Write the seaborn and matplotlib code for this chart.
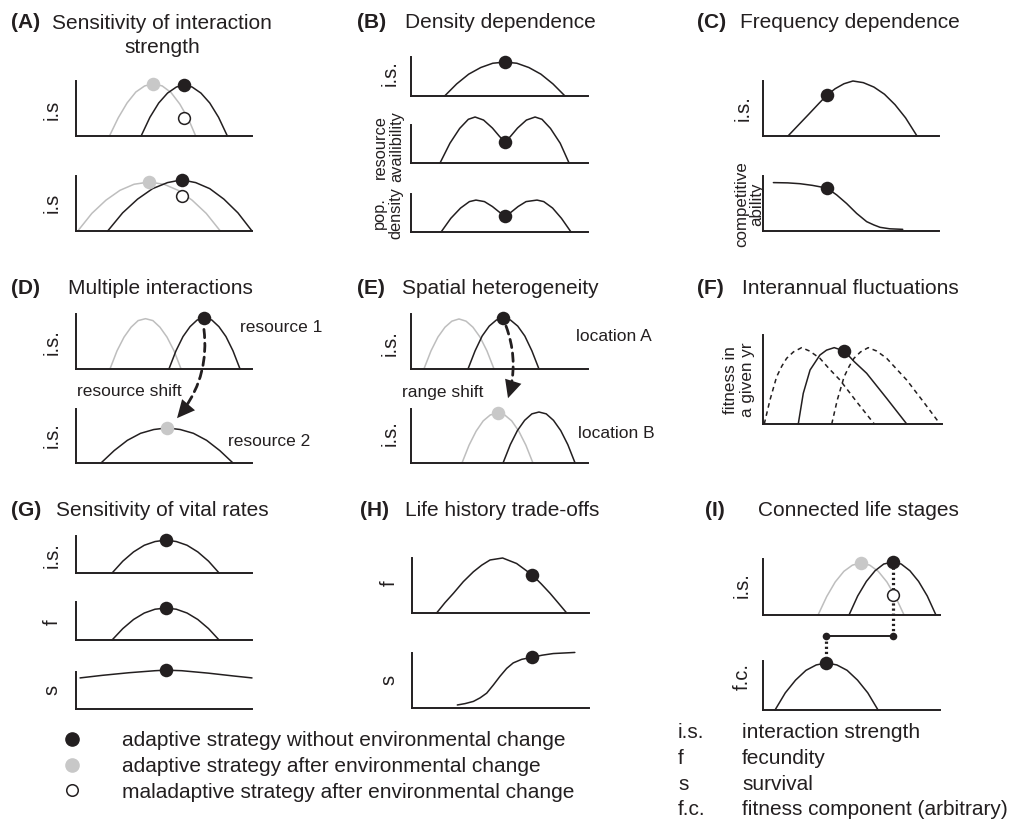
import matplotlib
matplotlib.use('Agg')
import matplotlib.pyplot as plt
import seaborn as sns
from matplotlib.patches import ConnectionPatch
from matplotlib.lines import Line2D

# ---- curve data (x, y in % of each small axis) ----
# (A) sensitivity of interaction strength
a1_grey_x = [19, 24, 29, 34, 39, 44, 49, 54, 59, 64, 68]
a1_grey_y = [0, 33, 60, 80, 91, 95, 91, 79, 58, 30, 0]
a1_black_x = [37, 42, 47, 52, 57, 61.5, 66, 71, 76, 81, 86]
a1_black_y = [0, 34, 60, 78, 89, 93, 89, 78, 60, 34, 0]
a2_grey_x = [1, 9, 17, 25, 33, 41.5, 50, 58, 66, 74, 82]
a2_grey_y = [0, 32, 56, 74, 85, 89, 85, 74, 56, 32, 0]
a2_black_x = [18, 26.5, 35, 43.5, 52, 60, 68, 76, 84, 92, 100]
a2_black_y = [0, 33, 58, 77, 88, 93, 88, 77, 58, 33, 0]
a1_pts = {'black': (61.5, 93), 'grey': (43.8, 95), 'open': (61.5, 33)}
a2_pts = {'black': (60, 93), 'grey': (41.5, 89), 'open': (60, 63.6)}

# (B) density dependence
b1_x = [19, 25.8, 32.6, 39.4, 46.2, 53, 59.8, 66.6, 73.4, 80.2, 87]
b1_y = [0, 31, 56, 73, 84, 87, 84, 73, 56, 31, 0]
b2_x = [16.4, 22, 27.5, 32.4, 36.2, 41, 46, 50, 53.1, 56.2, 60.2, 65.2, 70.1, 74, 78.8, 84.3, 89.3]
b2_y = [0, 52, 91, 115, 121, 113, 92, 70, 55, 70, 92, 113, 121, 115, 91, 52, 0]
b3_x = [17, 22.5, 28, 33, 36.7, 41.5, 46, 50, 53.1, 56.5, 60.5, 65, 71.2, 75, 80, 85, 90.4]
b3_y = [0, 36, 63, 80, 84, 80, 67, 52, 42, 52, 67, 80, 84, 80, 63, 36, 0]
b_pts = [(53, 87), (53.1, 55), (53.1, 42)]

# (C) frequency dependence
c1_x = [14.2, 20, 26, 32, 36.4, 41, 46, 51.1, 57, 63, 69, 75, 81, 87.5]
c1_y = [0, 19.5, 39.6, 60, 74.5, 86, 95, 100, 97, 89, 76, 57, 33, 0]
c2_x = [5.9, 14, 21, 28, 36.4, 41.9, 47.5, 53.2, 58.9, 63, 66.5, 72, 79.4]
c2_y = [88, 87.5, 86, 83, 78, 65.5, 50, 32, 17, 11, 6.7, 4, 3]
c_pts = [(36.4, 74.5), (36.4, 78)]

# (D) multiple interactions
d1_grey_x = [19.3, 23.3, 27.3, 31.3, 35.3, 39.5, 43.7, 47.7, 51.7, 55.7, 59.7]
d1_grey_y = [0, 33, 58, 76, 88, 91.5, 88, 76, 58, 33, 0]
d1_black_x = [52.8, 56.8, 60.8, 64.8, 68.8, 73, 77.2, 81.2, 85.2, 89.2, 93.2]
d1_black_y = [0, 33, 59, 77, 89, 92.7, 89, 77, 59, 33, 0]
d2_x = [14.2, 21.7, 29.2, 36.7, 44.2, 51.7, 59.2, 66.7, 74.2, 81.7, 89.2]
d2_y = [0, 23, 42, 55, 62, 65, 62, 55, 42, 23, 0]
d1_pt = (73, 92.7)
d2_pt = (51.7, 65)
d_arrow = [(72.7, 72), (57.4, 83)]

# (E) spatial heterogeneity
e1_grey_x = [7.3, 11.3, 15.2, 19.2, 23.1, 27.1, 31.1, 35, 39, 42.9, 46.9]
e1_grey_y = [0, 33, 58, 76, 87, 91, 87, 76, 58, 33, 0]
e1_black_x = [32.2, 36.2, 40.2, 44.2, 48.2, 52.2, 56.2, 60.3, 64.3, 68.3, 72.3]
e1_black_y = [0, 33, 60, 78, 89, 93, 89, 78, 60, 33, 0]
e2_grey_x = [28.8, 32.8, 36.8, 40.8, 44.8, 48.9, 52.9, 56.9, 60.9, 64.9, 68.9]
e2_grey_y = [0, 33, 59, 78, 89, 92.6, 89, 78, 59, 33, 0]
e2_black_x = [52, 56.1, 60.1, 64.2, 68.3, 72.3, 76.4, 80.5, 84.6, 88.6, 92.7]
e2_black_y = [0, 34, 60, 79, 91, 94.4, 91, 79, 60, 34, 0]
e1_pt = (52.2, 93)
e2_pt = (48.9, 92.6)
e_arrow = [(53.7, 78), (54.8, 120)]

# (F) interannual fluctuations
f_dash1_x = [0.7, 3.9, 7.6, 10.5, 13.2, 17, 21.6, 26, 31.8, 37, 43, 52.3, 62.2]
f_dash1_y = [0, 27, 53, 65, 73.8, 81, 85.8, 82, 73.8, 62, 49.4, 25, 0]
f_solid_x = [19.7, 22.5, 26.3, 31.8, 35.5, 39.8, 45.4, 51, 57.9, 69.1, 80.3]
f_solid_y = [0, 34.5, 60.7, 77.5, 83, 85.8, 82, 70, 57, 28.8, 0]
f_dash2_x = [38.4, 41.5, 45.3, 48.2, 50.8, 54.5, 58.8, 63.5, 69.1, 74.5, 80.3, 89.6, 98.9]
f_dash2_y = [0, 27, 53, 65, 73.8, 81, 85.8, 82, 73.8, 62, 49.4, 25, 0]
f_pt = (45.4, 82)

# (G) sensitivity of vital rates
g_x = [20.5, 26.6, 32.7, 38.8, 44.9, 51, 57, 63.1, 69.2, 75.3, 81.3]
g1_y = [0, 32, 57, 75, 85, 89, 85, 75, 57, 32, 0]
g2_y = [0, 30, 54, 71, 81, 84, 81, 71, 54, 30, 0]
g3_x = [2.3, 15, 30, 45, 51, 60, 75, 90, 100]
g3_y = [84, 91, 98, 103.5, 105, 103.5, 97, 89, 84]
g_pts = [(51, 89), (51, 84), (51, 105)]

# (H) life history trade-offs
h1_x = [13.9, 18.6, 23.4, 29, 34.7, 39.4, 44.1, 51.2, 59.1, 68, 73, 78, 82.7, 87.4]
h1_y = [0, 18.7, 35.8, 57, 75, 87, 96.4, 100, 90, 69, 53, 35.8, 18, 0]
h2_x = [25.6, 30, 34.7, 38.5, 42.2, 46, 49.7, 53.5, 57.2, 62, 67.6, 73.5, 79.8, 92]
h2_y = [5.5, 8, 12, 18.5, 27, 42, 57.6, 72, 82, 88.5, 92, 96, 99, 101]
h_pts = [(68, 69), (67.6, 92)]

# (I) connected life stages
i1_grey_x = [31.1, 36, 40.8, 45.7, 50.5, 55.4, 60.3, 65.1, 70, 74.8, 79.7]
i1_grey_y = [0, 33, 59, 78, 89, 93, 89, 78, 59, 33, 0]
i1_black_x = [48.6, 53.5, 58.4, 63.3, 68.2, 73.2, 78.1, 83, 87.9, 92.8, 97.7]
i1_black_y = [0, 34, 60, 79, 91, 94.6, 91, 79, 60, 34, 0]
i2_x = [6.8, 12.6, 18.4, 24.3, 30.1, 35.8, 41.7, 47.5, 53.4, 59.2, 65]
i2_y = [0, 35, 61, 81, 92, 96, 92, 81, 61, 35, 0]
i1_pts = {'black': (73.2, 94.6), 'grey': (55.4, 93), 'open': (73.2, 35.7)}
i2_pt = (35.8, 95)
i_link_x = [35.8, 73.2]
i_link_y1 = -37.5   # link level in top-axis units
i_link_y2 = 151     # same level in bottom-axis units

legend_labels = ['adaptive strategy without environmental change',
                 'adaptive strategy after environmental change',
                 'maladaptive strategy after environmental change']
gloss_abbr = ['i.s.', 'f', 's', 'f.c.']
gloss_desc = ['interaction strength', 'fecundity', 'survival',
              'fitness component (arbitrary)']

# ---- style ----
sns.set_style('white')
plt.rcParams['font.family'] = ['Liberation Sans', 'DejaVu Sans']
INK = '#231f20'
GREY = '#bebebe'
DOT_GREY = '#c8c8c8'

W, H = 1014, 824
fig = plt.figure(figsize=(W / 100, H / 100), dpi=100)
fig.patch.set_facecolor('white')


def panel(left, top, right, bottom):
    ax = fig.add_axes([left / W, 1 - bottom / H, (right - left) / W, (bottom - top) / H])
    ax.set_xticks([])
    ax.set_yticks([])
    for s in ['top', 'right']:
        ax.spines[s].set_visible(False)
    for s in ['left', 'bottom']:
        ax.spines[s].set_linewidth(1.4)
        ax.spines[s].set_color(INK)
    ax.patch.set_alpha(0)
    return ax


def curve(ax, x, y, color=INK, ls='-', lw=1.1):
    sns.lineplot(x=x, y=y, ax=ax, color=color, lw=lw, linestyle=ls,
                 estimator=None, sort=False, clip_on=False, legend=False)


def dot(ax, pt, kind='black', s=95):
    if kind == 'black':
        fc, ec = INK, INK
    elif kind == 'grey':
        fc, ec = DOT_GREY, DOT_GREY
    else:
        fc, ec = 'white', INK
        s = 72
    sns.scatterplot(x=[pt[0]], y=[pt[1]], ax=ax, s=s, color=fc, edgecolor=ec,
                    linewidth=1.1 if kind == 'open' else 0, zorder=6,
                    clip_on=False, legend=False)


def ftext(x, y, s, size=15, **kw):
    fig.text(x / W, 1 - y / H, s, fontsize=size, color=INK, va='center', **kw)


def ylab(x, y, s, size=14.5, spacing=1.0):
    fig.text(x / W, 1 - y / H, s, fontsize=size, color=INK, rotation=90,
             ha='center', va='center', multialignment='center', linespacing=spacing)


def title(x_lab, x_txt, y, lab, txt):
    ftext(x_lab, y, lab, weight='bold')
    ftext(x_txt, y, txt)


def shift_arrow(ax_from, ax_to, pts, rad):
    # dashed shaft, then a solid filled head on the same path
    shaft = ConnectionPatch(pts[0], pts[1], 'data', 'data', axesA=ax_from, axesB=ax_to,
                            arrowstyle='-', connectionstyle=f'arc3,rad={rad}', color=INK,
                            lw=2, linestyle=(0, (3, 2)), shrinkA=0, shrinkB=8, zorder=7)
    head = ConnectionPatch(pts[0], pts[1], 'data', 'data', axesA=ax_from, axesB=ax_to,
                           arrowstyle='-|>,head_length=0.75,head_width=0.36',
                           connectionstyle=f'arc3,rad={rad}', color=INK, lw=0,
                           mutation_scale=17, shrinkA=0, shrinkB=0, zorder=7)
    for p in (shaft, head):
        p.set_annotation_clip(False)
        fig.add_artist(p)


# ---- (A) ----
title(11, 50, 23, '(A)', '')
ftext(162, 35.5, 'Sensitivity of interaction\nstrength', ha='center', linespacing=1.3)
axA1 = panel(76, 81, 252, 136)
curve(axA1, a1_grey_x, a1_grey_y, GREY)
curve(axA1, a1_black_x, a1_black_y)
dot(axA1, a1_pts['grey'], 'grey')
dot(axA1, a1_pts['black'])
dot(axA1, a1_pts['open'], 'open')
axA2 = panel(76, 176, 252, 231)
curve(axA2, a2_grey_x, a2_grey_y, GREY)
curve(axA2, a2_black_x, a2_black_y)
dot(axA2, a2_pts['grey'], 'grey')
dot(axA2, a2_pts['black'])
dot(axA2, a2_pts['open'], 'open')
ylab(52, 110, 'i.s')
ylab(52, 203, 'i.s')

# ---- (B) ----
title(357, 405, 23, '(B)', 'Density dependence')
axB1 = panel(411, 57, 588, 96)
curve(axB1, b1_x, b1_y)
dot(axB1, b_pts[0])
axB2 = panel(411, 125, 588, 163)
curve(axB2, b2_x, b2_y)
dot(axB2, b_pts[1])
axB3 = panel(411, 194, 588, 232)
curve(axB3, b3_x, b3_y)
dot(axB3, b_pts[2])
ylab(390, 73, 'i.s.')
ylab(389, 147, 'resource\navailibility', 11.8, 1.12)
ylab(388, 213, 'pop.\ndensity', 11.8, 1.12)

# ---- (C) ----
title(697, 740, 23, '(C)', 'Frequency dependence')
axC1 = panel(763, 81, 939, 136)
curve(axC1, c1_x, c1_y)
dot(axC1, c_pts[0])
axC2 = panel(763, 176, 939, 231)
curve(axC2, c2_x, c2_y)
dot(axC2, c_pts[1])
ylab(743, 108, 'i.s.')
ylab(749, 204, 'competitive\nability', 12.2, 1.02)

# ---- (D) ----
title(11, 68, 288, '(D)', 'Multiple interactions')
axD1 = panel(76, 314, 252, 369)
curve(axD1, d1_grey_x, d1_grey_y, GREY)
curve(axD1, d1_black_x, d1_black_y)
dot(axD1, d1_pt)
axD2 = panel(76, 409, 252, 463)
curve(axD2, d2_x, d2_y)
dot(axD2, d2_pt, 'grey')
ylab(52, 342, 'i.s.')
ylab(52, 435, 'i.s.')
ftext(240, 327, 'resource 1', 12.5)
ftext(77, 392, 'resource shift', 12.5)
ftext(228, 442, 'resource 2', 12.5)
shift_arrow(axD1, axD2, d_arrow, -0.22)

# ---- (E) ----
title(357, 402, 288, '(E)', 'Spatial heterogeneity')
axE1 = panel(411, 314, 588, 369)
curve(axE1, e1_grey_x, e1_grey_y, GREY)
curve(axE1, e1_black_x, e1_black_y)
dot(axE1, e1_pt)
axE2 = panel(411, 409, 588, 463)
curve(axE2, e2_grey_x, e2_grey_y, GREY)
curve(axE2, e2_black_x, e2_black_y)
dot(axE2, e2_pt, 'grey')
ylab(390, 343, 'i.s.')
ylab(390, 433, 'i.s.')
ftext(576, 336, 'location A', 12.5)
ftext(402, 392, 'range shift', 12.5)
ftext(578, 433, 'location B', 12.5)
shift_arrow(axE1, axE2, e_arrow, -0.17)

# ---- (F) ----
title(697, 742, 288, '(F)', 'Interannual fluctuations')
axF = panel(763, 335, 942, 424)
curve(axF, f_dash1_x, f_dash1_y, ls=(0, (3, 2.5)))
curve(axF, f_solid_x, f_solid_y)
curve(axF, f_dash2_x, f_dash2_y, ls=(0, (3, 2.5)))
dot(axF, f_pt)
ylab(739, 380, 'fitness in\na given yr', 12.3, 1.1)

# ---- (G) ----
title(11, 56, 510, '(G)', 'Sensitivity of vital rates')
axG1 = panel(76, 536, 252, 573)
curve(axG1, g_x, g1_y)
dot(axG1, g_pts[0])
axG2 = panel(76, 602, 252, 640)
curve(axG2, g_x, g2_y)
dot(axG2, g_pts[1])
axG3 = panel(76, 672, 252, 709)
curve(axG3, g3_x, g3_y)
dot(axG3, g_pts[2])
ylab(52, 555, 'i.s.')
ylab(52, 622, 'f')
ylab(52, 690, 's')

# ---- (H) ----
title(360, 405, 510, '(H)', 'Life history trade-offs')
axH1 = panel(412, 558, 589, 613)
curve(axH1, h1_x, h1_y)
dot(axH1, h_pts[0])
axH2 = panel(412, 653, 589, 708)
curve(axH2, h2_x, h2_y)
dot(axH2, h_pts[1])
ylab(389, 583, 'f')
ylab(389, 680, 's')

# ---- (I) ----
title(705, 758, 510, '(I)', 'Connected life stages')
axI1 = panel(763, 559, 940, 615)
curve(axI1, i1_grey_x, i1_grey_y, GREY)
curve(axI1, i1_black_x, i1_black_y)
axI2 = panel(763, 661, 940, 710)
curve(axI2, i2_x, i2_y)
dotted = (0, (0.7, 0.9))
axI1.plot([i_link_x[1], i_link_x[1]], [i1_pts['black'][1], i_link_y1], color=INK,
          lw=2.3, ls=dotted, clip_on=False, zorder=4)
axI1.plot(i_link_x, [i_link_y1, i_link_y1], color=INK, lw=1.4, clip_on=False, zorder=4)
axI2.plot([i_link_x[0], i_link_x[0]], [i_link_y2, i2_pt[1]], color=INK,
          lw=2.3, ls=dotted, clip_on=False, zorder=4)
sns.scatterplot(x=i_link_x, y=[i_link_y1, i_link_y1], ax=axI1, s=30, color=INK,
                linewidth=0, clip_on=False, zorder=6, legend=False)
dot(axI1, i1_pts['grey'], 'grey')
dot(axI1, i1_pts['black'])
dot(axI1, i1_pts['open'], 'open')
dot(axI2, i2_pt)
ylab(742, 585, 'i.s.')
ylab(742, 677, 'f.c.')

for ax in fig.axes:
    ax.set_xlim(0, 100)
    ax.set_ylim(0, 100)
    ax.set_xlabel('')
    ax.set_ylabel('')

# ---- legend ----
handles = [Line2D([], [], ls='', marker='o', ms=9.5, color=INK, mec=INK),
           Line2D([], [], ls='', marker='o', ms=9.5, color=DOT_GREY, mec=DOT_GREY),
           Line2D([], [], ls='', marker='o', ms=8.3, mfc='white', mec=INK, mew=1.1)]
leg = fig.legend(handles, legend_labels, loc='upper left', bbox_to_anchor=(62 / W, 1 - 731 / H),
                 frameon=False, fontsize=15, handlelength=1.0, handletextpad=1.9,
                 labelspacing=0.33, borderpad=0, borderaxespad=0)
for t in leg.get_texts():
    t.set_color(INK)

# ---- glossary ----
for k, (ab, desc) in enumerate(zip(gloss_abbr, gloss_desc)):
    y = 733 + 25.5 * k
    ftext(678, y, ab)
    ftext(742, y, desc)

fig.savefig('out.png', dpi=100, facecolor='white')
